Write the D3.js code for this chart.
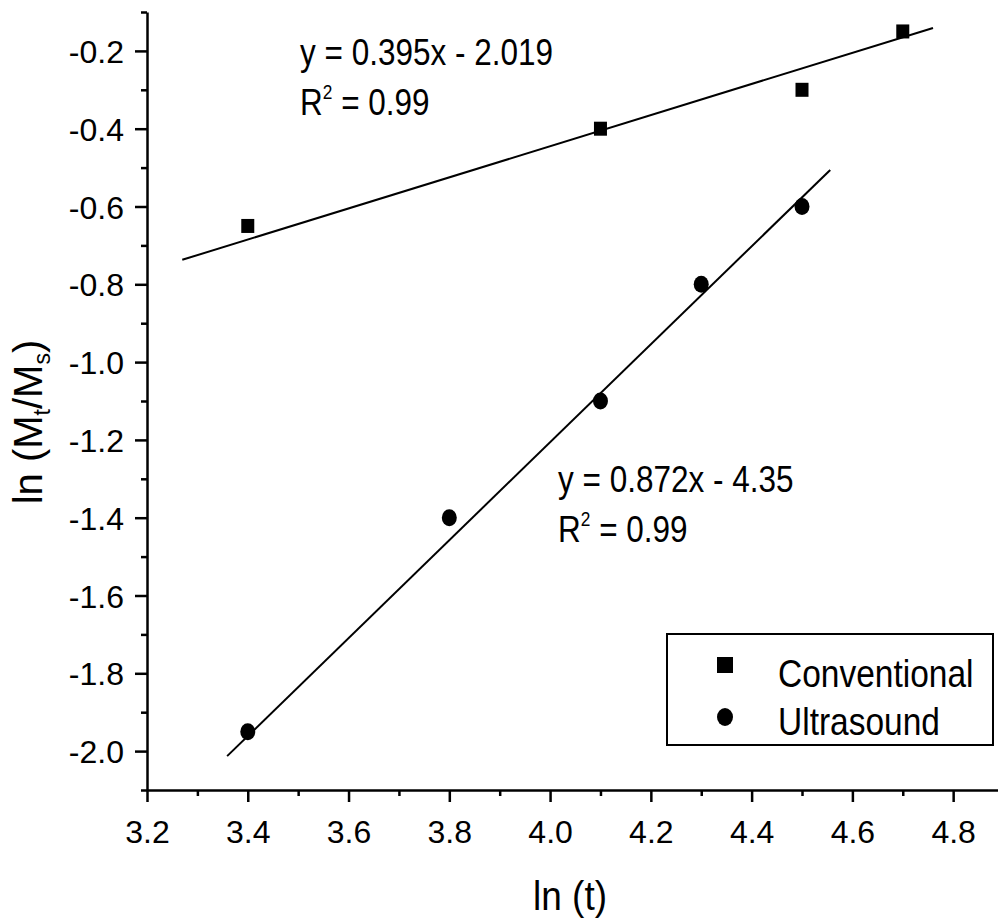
<!DOCTYPE html>
<html><head><meta charset="utf-8">
<script src="https://cdn.jsdelivr.net/npm/d3@7"></script>
<style>
body{margin:0;background:#fff}
svg{display:block}
text{font-family:"Liberation Sans",Arial,Helvetica,sans-serif;fill:#000}
</style>
</head><body>
<svg id="c" width="998" height="921"></svg>
<script>
// ---- data ----
const seriesNames = ["Conventional", "Ultrasound"];
const convX = [3.4, 4.1, 4.5, 4.7];
const convY = [-0.65, -0.40, -0.30, -0.15];
const ultraX = [3.4, 3.8, 4.1, 4.3, 4.5];
const ultraY = [-1.95, -1.40, -1.10, -0.80, -0.60];
const convFitX = [3.27, 4.76];
const convFitY = [-0.737, -0.141];
const ultraFitX = [3.359, 4.556];
const ultraFitY = [-2.013, -0.506];
const xMajorTicks = [3.2, 3.4, 3.6, 3.8, 4.0, 4.2, 4.4, 4.6, 4.8];
const xMinorTicks = [3.3, 3.5, 3.7, 3.9, 4.1, 4.3, 4.5, 4.7];
const yMajorTicks = [-2.0, -1.8, -1.6, -1.4, -1.2, -1.0, -0.8, -0.6, -0.4, -0.2];
const yMinorTicks = [-2.1, -1.9, -1.7, -1.5, -1.3, -1.1, -0.9, -0.7, -0.5, -0.3, -0.1];
const convEq = ["y = 0.395x - 2.019", "0.99"];
const ultraEq = ["y = 0.872x - 4.35", "0.99"];

// ---- layout ----
const svg = d3.select("#c");
const x = d3.scaleLinear().domain([3.2, 4.889]).range([147, 998]);
const y = d3.scaleLinear().domain([-2.1, -0.1]).range([790, 12]);
const fmt = d => d.toFixed(1);

// x axis
const gx = svg.append("g").attr("transform", "translate(0,790)");
gx.call(d3.axisBottom(x).tickValues(xMajorTicks).tickSize(12).tickSizeOuter(0).tickFormat(fmt));
gx.append("g").call(d3.axisBottom(x).tickValues(xMinorTicks).tickSize(6).tickSizeOuter(0).tickFormat(""))
  .select(".domain").remove();
gx.selectAll("text").attr("y", 53).attr("dy", 0).style("font-size", "32px").attr("fill", "#000");

// y axis
const gy = svg.append("g").attr("transform", "translate(147,0)");
gy.call(d3.axisLeft(y).tickValues(yMajorTicks).tickSize(12).tickSizeOuter(0).tickPadding(11).tickFormat(fmt));
gy.append("g").call(d3.axisLeft(y).tickValues(yMinorTicks).tickSize(6).tickSizeOuter(0).tickFormat(""))
  .select(".domain").remove();
gy.selectAll("text").attr("dy", "0.36em").style("font-size", "32px").attr("fill", "#000");

svg.selectAll(".domain").attr("stroke", "#000").attr("stroke-width", 2.5);
svg.selectAll(".tick line").attr("stroke", "#000").attr("stroke-width", 2.5);

// fit lines
const line = d3.line().x(d => x(d[0])).y(d => y(d[1]));
svg.append("path").datum(d3.zip(convFitX, convFitY)).attr("d", line)
  .attr("fill", "none").attr("stroke", "#000").attr("stroke-width", 2);
svg.append("path").datum(d3.zip(ultraFitX, ultraFitY)).attr("d", line)
  .attr("fill", "none").attr("stroke", "#000").attr("stroke-width", 2);

// markers
svg.selectAll("rect.pt").data(d3.zip(convX, convY)).join("rect").attr("class", "pt")
  .attr("x", d => x(d[0]) - 6.5).attr("y", d => y(d[1]) - 7).attr("width", 13).attr("height", 14).attr("fill", "#000");
svg.selectAll("ellipse.pt").data(d3.zip(ultraX, ultraY)).join("ellipse").attr("class", "pt")
  .attr("cx", d => x(d[0])).attr("cy", d => y(d[1])).attr("rx", 7.5).attr("ry", 8.5).attr("fill", "#000");

// equations
function eq(px, py, lines, fs, sy) {
  const g = svg.append("g").attr("transform", `translate(${px},${py}) scale(1,${sy})`);
  g.append("text").attr("x", 0).attr("y", 0).style("font-size", fs + "px").text(lines[0]);
  const t = g.append("text").attr("x", 0).attr("y", 50 / sy).style("font-size", fs + "px");
  t.append("tspan").text("R");
  t.append("tspan").attr("dy", -fs * 0.45).style("font-size", (fs * 0.55) + "px").text("2");
  t.append("tspan").attr("dy", fs * 0.45).text(" = " + lines[1]);
}
eq(300, 65, convEq, 31.5, 1.15);
eq(558, 492, ultraEq, 31.5, 1.15);

// legend
const lg = svg.append("g");
lg.append("rect").attr("x", 667).attr("y", 634).attr("width", 326).attr("height", 111)
  .attr("fill", "#fff").attr("stroke", "#000").attr("stroke-width", 2);
lg.append("rect").attr("x", 725 - 8).attr("y", 665 - 8).attr("width", 16).attr("height", 16).attr("fill", "#000");
lg.append("ellipse").attr("cx", 725).attr("cy", 717).attr("rx", 8).attr("ry", 9).attr("fill", "#000");
[[seriesNames[0], 687], [seriesNames[1], 735]].forEach(([name, by]) => {
  lg.append("g").attr("transform", `translate(778,${by}) scale(1,1.15)`)
    .append("text").style("font-size", "33.5px").text(name);
});

// axis titles
svg.append("g").attr("transform", "translate(570,910) scale(1,1.08)")
  .append("text").attr("text-anchor", "middle").style("font-size", "37px").text("ln (t)");
const yl = svg.append("text").attr("transform", "translate(42,422) rotate(-90)")
  .attr("text-anchor", "middle").style("font-size", "40px");
yl.append("tspan").text("ln (M");
yl.append("tspan").attr("dy", 8).style("font-size", "23px").text("t");
yl.append("tspan").attr("dy", -8).text("/M");
yl.append("tspan").attr("dy", 8).style("font-size", "23px").text("s");
yl.append("tspan").attr("dy", -8).text(")");
</script>
</body></html>
